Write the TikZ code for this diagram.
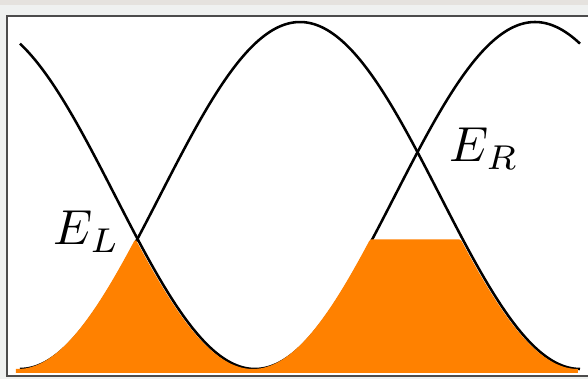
\documentclass[tikz,border=0pt]{standalone}
\usepackage{amsmath}
\usepackage[x11names]{xcolor}
\usetikzlibrary{positioning}
\definecolor{bandorange}{RGB}{255,129,0}
\definecolor{margingray}{RGB}{239,241,240}
\definecolor{topgray}{RGB}{229,226,222}

\begin{document}
\begin{tikzpicture}[x=0.025cm, y=-0.025cm] % coordinate in pixel, y verso il basso
    % Stili per curve, riempimento ed etichette
    \tikzset{
        wave/.style={
            line width=1.8pt,
            black,
            smooth,
            samples=200,
            domain=20:580
        },
        elabel/.style={
            inner sep=0pt,
            anchor=base west,
            scale=3.5
        }
    }

    % Parametri delle due bande (centro, ampiezza, mezzo periodo)
    \def\ymid{195.5}
    \def\amp{173.5}
    \def\per{280}
    % Livello di riempimento (incrocio di sinistra)
    \def\ylev{239.5}

    \useasboundingbox (0,0) rectangle (588,379);

    % --- Cornice ---
    \fill[margingray] (0,0) rectangle (588,379);
    \fill[topgray] (0,0) rectangle (588,5);
    \fill[white] (7,16) rectangle (588,376);
    \draw[line width=1.2pt, gray!60!black] (588,16) -- (7,16) -- (7,376) -- (588,376);

    % --- Curve ---
    \draw[wave] plot (\x, {\ymid - \amp*cos((\x+25)/\per*180)});
    \draw[wave] plot (\x, {\ymid + \amp*cos((\x-20)/\per*180)});

    % --- Stati occupati ---
    \fill[bandorange, xshift=-1.5pt]
        plot[samples=300, domain=18:580]
            (\x, {max(\ymid - \amp*cos((\x+25)/\per*180),
                      \ymid + \amp*cos((\x-20)/\per*180),
                      \ylev)})
        -- (580,373) -- (18,373) -- cycle;

    % Etichette
    \node[elabel] (EL) at (53,245) {$E_L$};
    \node[elabel] (ER) at (449,162) {$E_R$};

\end{tikzpicture}
\end{document}
